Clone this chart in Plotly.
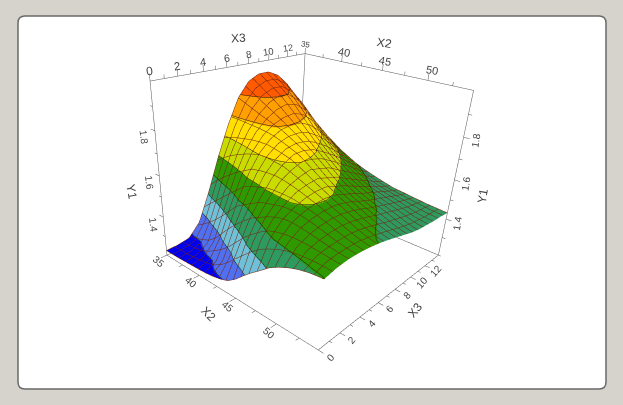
import plotly.graph_objects as go

# response surface values
X2 = [35, 36, 37, 38, 39, 40, 41, 42, 43, 44, 45, 46, 47, 48, 49, 50, 51, 52, 53, 54, 54.5]
X3 = [0, 1, 2, 3, 4, 5, 6, 7, 8, 9, 10, 11, 12, 13, 14]
Y1 = [
    [1.225, 1.225, 1.226, 1.228, 1.230, 1.232, 1.235, 1.241, 1.250, 1.265, 1.295, 1.335, 1.372, 1.405, 1.440, 1.465, 1.485, 1.500, 1.510, 1.515, 1.517],
    [1.228, 1.229, 1.231, 1.234, 1.240, 1.250, 1.265, 1.295, 1.340, 1.390, 1.432, 1.468, 1.498, 1.515, 1.527, 1.535, 1.538, 1.538, 1.536, 1.532, 1.530],
    [1.238, 1.245, 1.255, 1.270, 1.300, 1.345, 1.390, 1.430, 1.468, 1.500, 1.523, 1.545, 1.562, 1.570, 1.570, 1.565, 1.558, 1.550, 1.543, 1.537, 1.535],
    [1.300, 1.330, 1.362, 1.400, 1.440, 1.480, 1.520, 1.540, 1.560, 1.580, 1.588, 1.595, 1.600, 1.597, 1.590, 1.580, 1.568, 1.555, 1.544, 1.536, 1.533],
    [1.440, 1.480, 1.515, 1.545, 1.575, 1.600, 1.625, 1.635, 1.642, 1.645, 1.642, 1.635, 1.625, 1.612, 1.600, 1.585, 1.572, 1.556, 1.542, 1.531, 1.527],
    [1.600, 1.625, 1.648, 1.665, 1.680, 1.692, 1.700, 1.698, 1.692, 1.685, 1.670, 1.653, 1.635, 1.620, 1.603, 1.585, 1.568, 1.550, 1.533, 1.521, 1.5175],
    [1.740, 1.745, 1.748, 1.750, 1.752, 1.750, 1.745, 1.735, 1.723, 1.710, 1.688, 1.665, 1.640, 1.617, 1.595, 1.575, 1.557, 1.538, 1.521, 1.508, 1.505],
    [1.855, 1.840, 1.825, 1.810, 1.797, 1.784, 1.770, 1.750, 1.730, 1.710, 1.680, 1.650, 1.622, 1.598, 1.578, 1.560, 1.542, 1.524, 1.507, 1.494, 1.490],
    [1.920, 1.897, 1.873, 1.850, 1.826, 1.800, 1.775, 1.750, 1.722, 1.695, 1.665, 1.635, 1.605, 1.580, 1.558, 1.540, 1.524, 1.507, 1.491, 1.479, 1.475],
    [1.945, 1.920, 1.895, 1.870, 1.838, 1.804, 1.770, 1.735, 1.700, 1.668, 1.638, 1.608, 1.580, 1.558, 1.538, 1.522, 1.510, 1.495, 1.478, 1.464, 1.460],
    [1.945, 1.920, 1.893, 1.862, 1.825, 1.786, 1.745, 1.705, 1.670, 1.638, 1.608, 1.580, 1.556, 1.538, 1.522, 1.508, 1.495, 1.481, 1.466, 1.453, 1.450],
    [1.920, 1.890, 1.858, 1.825, 1.787, 1.746, 1.705, 1.670, 1.635, 1.605, 1.578, 1.553, 1.532, 1.517, 1.505, 1.493, 1.481, 1.469, 1.455, 1.447, 1.445],
    [1.870, 1.835, 1.800, 1.765, 1.727, 1.685, 1.655, 1.625, 1.595, 1.570, 1.548, 1.528, 1.510, 1.497, 1.487, 1.478, 1.467, 1.456, 1.447, 1.442, 1.440],
    [1.805, 1.770, 1.735, 1.700, 1.665, 1.630, 1.605, 1.580, 1.555, 1.535, 1.517, 1.500, 1.487, 1.478, 1.470, 1.463, 1.456, 1.450, 1.444, 1.440, 1.438],
    [1.745, 1.708, 1.670, 1.640, 1.610, 1.585, 1.560, 1.540, 1.520, 1.505, 1.492, 1.480, 1.470, 1.460, 1.455, 1.450, 1.445, 1.440, 1.437, 1.434, 1.432],
]

band_colors = ["#0000f0", "#5070f0", "#70c0d8", "#2e9a60", "#2f9a00",
               "#c8dc00", "#ffe000", "#ffa000", "#ff5a00"]
level_start = 1.1675
level_size = 0.0875

x2_ticks = [35, 37.5, 40, 42.5, 45, 47.5, 50, 52.5]
x2_labels = [35, 40, 45, 50]
x3_ticks = list(range(0, 15))
x3_labels = [0, 2, 4, 6, 8, 10, 12]
y1_ticks = [1.3, 1.4, 1.5, 1.6, 1.7, 1.8, 1.9]
y1_labels = [1.4, 1.6, 1.8]

x_lo, x_hi = 35, 54.5
y_lo, y_hi = 0, 14
z_lo, z_hi = 1.2, 2.0

W, H = 623, 446
INK = "#444444"
FONT = "Liberation Sans"

# stepped colour scale, one flat block per band
colorscale = []
n = len(band_colors)
for i, c in enumerate(band_colors):
    colorscale.append([i / n, c])
    colorscale.append([(i + 1) / n, c])

fig = go.Figure()

fig.add_trace(go.Surface(
    x=X2, y=X3, z=Y1,
    colorscale=colorscale, cmin=level_start, cmax=level_start + n * level_size,
    showscale=False, hoverinfo="skip",
    lighting=dict(ambient=1, diffuse=0, specular=0, fresnel=0, roughness=1),
    contours=dict(
        x=dict(show=True, start=x_lo, end=x_hi, size=0.975, color="#702412", width=1.5, highlight=False),
        y=dict(show=True, start=y_lo, end=y_hi, size=0.7, color="#702412", width=1.5, highlight=False),
        z=dict(show=True, start=level_start + level_size, end=level_start + (n - 1) * level_size,
               size=level_size, color="#14280c", width=1.5, highlight=False),
    ),
))

# box edges and tick marks
lx, ly, lz = [], [], []


def seg(a, b):
    lx.extend([a[0], b[0], None])
    ly.extend([a[1], b[1], None])
    lz.extend([a[2], b[2], None])


# bottom edges
seg((x_lo, y_lo, z_lo), (x_hi, y_lo, z_lo))
seg((x_hi, y_lo, z_lo), (x_hi, y_hi, z_lo))
seg((x_hi, y_hi, z_lo), (x_lo, y_hi, z_lo))
seg((x_lo, y_hi, z_lo), (x_lo, y_lo, z_lo))
# top edges
seg((x_lo, y_lo, z_hi), (x_lo, y_hi, z_hi))
seg((x_lo, y_hi, z_hi), (x_hi, y_hi, z_hi))
# verticals
seg((x_lo, y_lo, z_lo), (x_lo, y_lo, z_hi))
seg((x_lo, y_hi, z_lo), (x_lo, y_hi, z_hi))
seg((x_hi, y_hi, z_lo), (x_hi, y_hi, z_hi))

for t in x2_ticks:
    m = t in x2_labels
    seg((t, y_lo, z_lo), (t, y_lo - (0.5 if m else 0.3), z_lo))
    seg((t, y_hi, z_hi), (t, y_hi, z_hi + (0.028 if m else 0.016)))
for t in x3_ticks:
    m = t in x3_labels
    seg((x_hi, t, z_lo), (x_hi + (0.55 if m else 0.3), t, z_lo))
    seg((x_lo, t, z_hi), (x_lo, t, z_hi + (0.028 if m else 0.016)))
for t in y1_ticks:
    m = t in y1_labels
    seg((x_lo, y_lo, t), (x_lo - (0.6 if m else 0.35), y_lo, t))
    seg((x_hi, y_hi, t), (x_hi + (0.6 if m else 0.35), y_hi, t))

fig.add_trace(go.Scatter3d(x=lx, y=ly, z=lz, mode="lines", hoverinfo="skip",
                           line=dict(color="#555555", width=1), showlegend=False))

# rotated labels sit in data space, so they follow the camera
notes = []


def note(text, x, y, z, angle, size=10):
    notes.append(dict(x=x, y=y, z=z, text=str(text), textangle=angle, showarrow=False,
                      font=dict(family=FONT, size=size, color=INK)))


for t in x2_labels:
    note(t, t + 0.4, y_lo - 0.9, z_lo, 40)
    if t != 35:
        note(t, t + 0.2, y_hi, z_hi + 0.045, 10, 11)
note(35, x_lo, y_hi, z_hi + 0.045, 8, 8)
for t in x3_labels:
    note(t, x_hi + 1.25, t, z_lo, -48)
    note(t, x_lo, t, z_hi + 0.04, -8, 12 - 0.25 * t)
for t in y1_labels:
    note(t, x_lo, y_lo - 0.8, t - 0.015, 83)
    note(t, x_hi + 1.2, y_hi, t, -80)

note("X3", x_lo, 7.1, z_hi + 0.115, -3, 12)
note("X2", 44.8, y_hi, z_hi + 0.12, 10, 12)
note("Y1", x_lo, y_lo - 2.1, 1.57, 80, 12)
note("Y1", x_hi + 3, y_hi, 1.57, -80, 12)
note("X2", 45, y_lo - 2.2, z_lo, 45, 12)
note("X3", x_hi + 3, 7, z_lo, -50, 12)


def px(x, y):
    return f"{x / W:.5f} {1 - y / H:.5f}"


L, T, R, B, r = 18, 16, 606, 389, 7
panel = (f"M {px(L + r, T)} L {px(R - r, T)} Q {px(R, T)} {px(R, T + r)} "
         f"L {px(R, B - r)} Q {px(R, B)} {px(R - r, B)} L {px(L + r, B)} "
         f"Q {px(L, B)} {px(L, B - r)} L {px(L, T + r)} Q {px(L, T)} {px(L + r, T)} Z")

hidden = dict(visible=False, showgrid=False, zeroline=False, showspikes=False, showbackground=False)

fig.update_layout(
    width=W, height=H,
    margin=dict(l=0, r=0, t=0, b=0, autoexpand=False),
    paper_bgcolor="#d6d3cc",
    showlegend=False,
    shapes=[dict(type="path", path=panel, xref="paper", yref="paper", layer="below",
                 fillcolor="white", line=dict(color="#6a6a6a", width=1.5))],
    scene=dict(
        domain=dict(x=[0, 600 / W], y=[0, 426 / H]),
        xaxis=dict(range=[31, 58.5], **hidden),
        yaxis=dict(range=[-3, 17], **hidden),
        zaxis=dict(range=[1.0, 2.2], **hidden),
        aspectmode="manual",
        aspectratio=dict(x=1.392, y=1.4286, z=1.2975),
        camera=dict(
            eye=dict(x=1.403, y=-1.751, z=0.984),
            center=dict(x=0.056, y=-0.124, z=-0.228),
            up=dict(x=-0.358, y=0.348, z=0.866),
        ),
        annotations=notes,
        bgcolor="rgba(0,0,0,0)",
    ),
)

# the page's default body margin would push the figure off its place
fig.write_html("out.html", config=dict(displayModeBar=False),
               post_script="document.body.style.margin='0';document.body.style.overflow='hidden';")
